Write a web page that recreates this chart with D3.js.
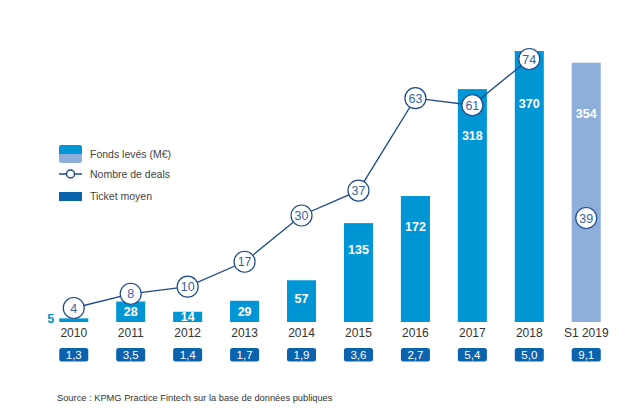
<!DOCTYPE html>
<html>
<head>
<meta charset="utf-8">
<script src="https://cdn.jsdelivr.net/npm/d3@7"></script>
<style>
  body { margin: 0; background: #fff; }
  svg { font-family: "Liberation Sans", Arial, sans-serif; }
</style>
</head>
<body>
<svg id="chart" width="643" height="420"></svg>
<script>
// Fintech fundraising chart: bars = funds raised, line = deal count, boxes = average ticket

const years = ['2010', '2011', '2012', '2013', '2014', '2015', '2016', '2017', '2018', 'S1 2019'];
const fonds = [5, 28, 14, 29, 57, 135, 172, 318, 370, 354];
const deals = [4, 8, 10, 17, 30, 37, 63, 61, 74, 39];
const tickets = ['1,3', '3,5', '1,4', '1,7', '1,9', '3,6', '2,7', '5,4', '5,0', '9,1'];

const blue = '#0096d6';
const lightBlue = '#8eaedb';
const navy = '#1e4a8c';
const ticketBlue = '#0b63ae';

const svg = d3.select('#chart');

const x = d3.scaleBand()
  .domain(years)
  .range([45, 615])
  .paddingInner(0.49)
  .paddingOuter(0.25);

const yBar = d3.scaleLinear().domain([0, 370]).range([322, 51]);
const yDeal = d3.scaleLinear().domain([4, 74]).range([308, 59]);

const isPartial = (d, i) => i === years.length - 1;

// bars
svg.append('g')
  .selectAll('rect')
  .data(fonds)
  .join('rect')
    .attr('x', (d, i) => x(years[i]))
    .attr('y', d => yBar(d))
    .attr('width', x.bandwidth())
    .attr('height', d => yBar(0) - yBar(d))
    .attr('fill', (d, i) => isPartial(d, i) ? lightBlue : blue);

// bar value labels
function labelY(d){
  const top = yBar(d), h = yBar(0) - yBar(d);
  return top + Math.min(h / 2, 0.15 * h + 12);
}
svg.append('g')
  .selectAll('text')
  .data(fonds)
  .join('text')
    .attr('x', (d, i) => i === 0 ? x(years[i]) - 5 : x(years[i]) + x.bandwidth() / 2)
    .attr('y', d => d < 10 ? yBar(0) - 3 : labelY(d))
    .attr('dy', '0.35em')
    .attr('text-anchor', (d, i) => i === 0 ? 'end' : 'middle')
    .attr('font-size', 12.5)
    .attr('font-weight', 'bold')
    .attr('fill', d => d < 10 ? blue : '#fff')
    .text(d => d);

// deals line (full years only)
const cx = i => x(years[i]) + x.bandwidth() / 2;
const line = d3.line()
  .x((d, i) => cx(i))
  .y(d => yDeal(d));

svg.append('path')
  .datum(deals.slice(0, -1))
  .attr('d', line)
  .attr('fill', 'none')
  .attr('stroke', navy)
  .attr('stroke-width', 1.3);

const dots = svg.append('g')
  .selectAll('g')
  .data(deals)
  .join('g')
    .attr('transform', (d, i) => `translate(${cx(i)},${isPartial(d, i) ? 218 : yDeal(d)})`);

dots.append('circle')
  .attr('r', 10.5)
  .attr('fill', '#fff')
  .attr('stroke', navy)
  .attr('stroke-width', 1.2);

dots.append('text')
  .attr('text-anchor', 'middle')
  .attr('dy', '0.36em')
  .attr('font-size', 12.5)
  .attr('fill', '#3d5f9e')
  .text(d => d);

// year labels
svg.append('g')
  .selectAll('text')
  .data(years)
  .join('text')
    .attr('x', d => x(d) + x.bandwidth() / 2)
    .attr('y', 333)
    .attr('dy', '0.35em')
    .attr('text-anchor', 'middle')
    .attr('font-size', 12)
    .attr('fill', '#333')
    .text(d => d);

// average ticket boxes
const tk = svg.append('g')
  .selectAll('g')
  .data(tickets)
  .join('g')
    .attr('transform', (d, i) => `translate(${x(years[i])},348)`);

tk.append('rect')
  .attr('width', x.bandwidth())
  .attr('height', 13.5)
  .attr('rx', 2.5)
  .attr('fill', ticketBlue);

tk.append('text')
  .attr('x', x.bandwidth() / 2)
  .attr('y', 7)
  .attr('dy', '0.36em')
  .attr('text-anchor', 'middle')
  .attr('font-size', 11.5)
  .attr('fill', '#fff')
  .text(d => d);

// legend
const lg = svg.append('g').attr('transform', 'translate(59,0)');
lg.append('rect').attr('x', 0).attr('y', 145).attr('width', 23).attr('height', 18).attr('rx', 2.5).attr('fill', lightBlue);
lg.append('rect').attr('x', 0).attr('y', 145).attr('width', 23).attr('height', 9).attr('rx', 2.5).attr('fill', blue);
lg.append('rect').attr('x', 0).attr('y', 151).attr('width', 23).attr('height', 3).attr('fill', blue);
lg.append('line').attr('x1', 0).attr('x2', 23).attr('y1', 174).attr('y2', 174).attr('stroke', navy).attr('stroke-width', 1.5);
lg.append('circle').attr('cx', 11.5).attr('cy', 174).attr('r', 4).attr('fill', '#fff').attr('stroke', navy).attr('stroke-width', 1.5);
lg.append('rect').attr('x', 0).attr('y', 192).attr('width', 23).attr('height', 9).attr('fill', ticketBlue);

lg.selectAll('text.lbl')
  .data(['Fonds levés (M€)', 'Nombre de deals', 'Ticket moyen'])
  .join('text')
    .attr('class', 'lbl')
    .attr('x', 31)
    .attr('y', (d, i) => [154, 174, 196.5][i])
    .attr('dy', '0.35em')
    .attr('font-size', 10.5)
    .attr('fill', '#444')
    .text(d => d);

// source
svg.append('text')
  .attr('x', 57)
  .attr('y', 398)
  .attr('dy', '0.35em')
  .attr('font-size', 9.3)
  .attr('fill', '#333')
  .text('Source : KPMG Practice Fintech sur la base de données publiques');
</script>
</body>
</html>
